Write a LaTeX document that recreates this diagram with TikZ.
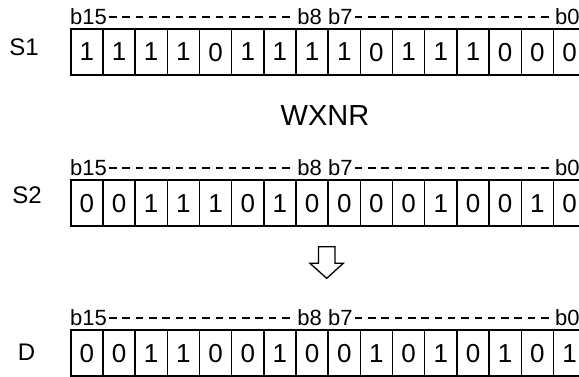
\documentclass[tikz,border=0pt]{standalone}
\usepackage{fontspec}
\setmainfont{Liberation Sans}
\usetikzlibrary{positioning}
\tikzset{
  bitcell/.style={draw, line width=1.5pt, minimum width=32.18pt, minimum height=46pt,
    inner sep=0pt, anchor=north west, font=\fontsize{26}{26}\selectfont},
  bitlabel/.style={inner sep=0pt, font=\fontsize{22}{22}\selectfont},
  rowname/.style={inner sep=0pt, font=\fontsize{24}{24}\selectfont},
  bitdash/.style={line width=1.4pt, dash pattern=on 7.5pt off 5.8pt, shorten <=2pt, shorten >=2pt},
}

\begin{document}
\begin{tikzpicture}[x=1pt,y=-1pt]
  \clip (0,0) rectangle (579,376);
  % registers
  \foreach \r/\top/\bits in {s1/28.3/{1,1,1,1,0,1,1,1,1,0,1,1,1,0,0,0},
                             s2/179.3/{0,0,1,1,1,0,1,0,0,0,0,1,0,0,1,0},
                             d/329.3/{0,0,1,1,0,0,1,0,0,1,0,1,0,1,0,1}} {
    \foreach \b [count=\i from 0] in \bits
      \node[bitcell] (\r-\i) at ({70+\i*32.18},\top) {\b};
    \node[bitlabel, anchor=base west] (\r-b15) at (70,{\top-3.5}) {b15};
    \node[bitlabel, anchor=base east] (\r-b8) at (322,{\top-3.5}) {b8};
    \node[bitlabel, anchor=base west] (\r-b7) at (328,{\top-3.5}) {b7};
    \node[bitlabel, anchor=base west] (\r-b0) at (555,{\top-3.5}) {b0};
    \draw[bitdash] (\r-b15.east) -- (\r-b8.west);
    \draw[bitdash] (\r-b7.east) -- (\r-b0.west);
  }
  \node[rowname] (s1name) at (24,47.5) {S1};
  \node[rowname] (s2name) at (27,195) {S2};
  \node[rowname] (dname) at (26.5,352.5) {D};
  \node[inner sep=0pt, font=\fontsize{29}{29}\selectfont] (instr) at (325,116) {WXNR};
  % result arrow
  \draw[line width=1.3pt, line join=miter] (318.4,246.7) -- (335,246.7) -- (335,263.3)
    -- (343.3,263.3) -- (326.7,278.3) -- (310,263.3) -- (318.4,263.3) -- cycle;
\end{tikzpicture}
\end{document}
